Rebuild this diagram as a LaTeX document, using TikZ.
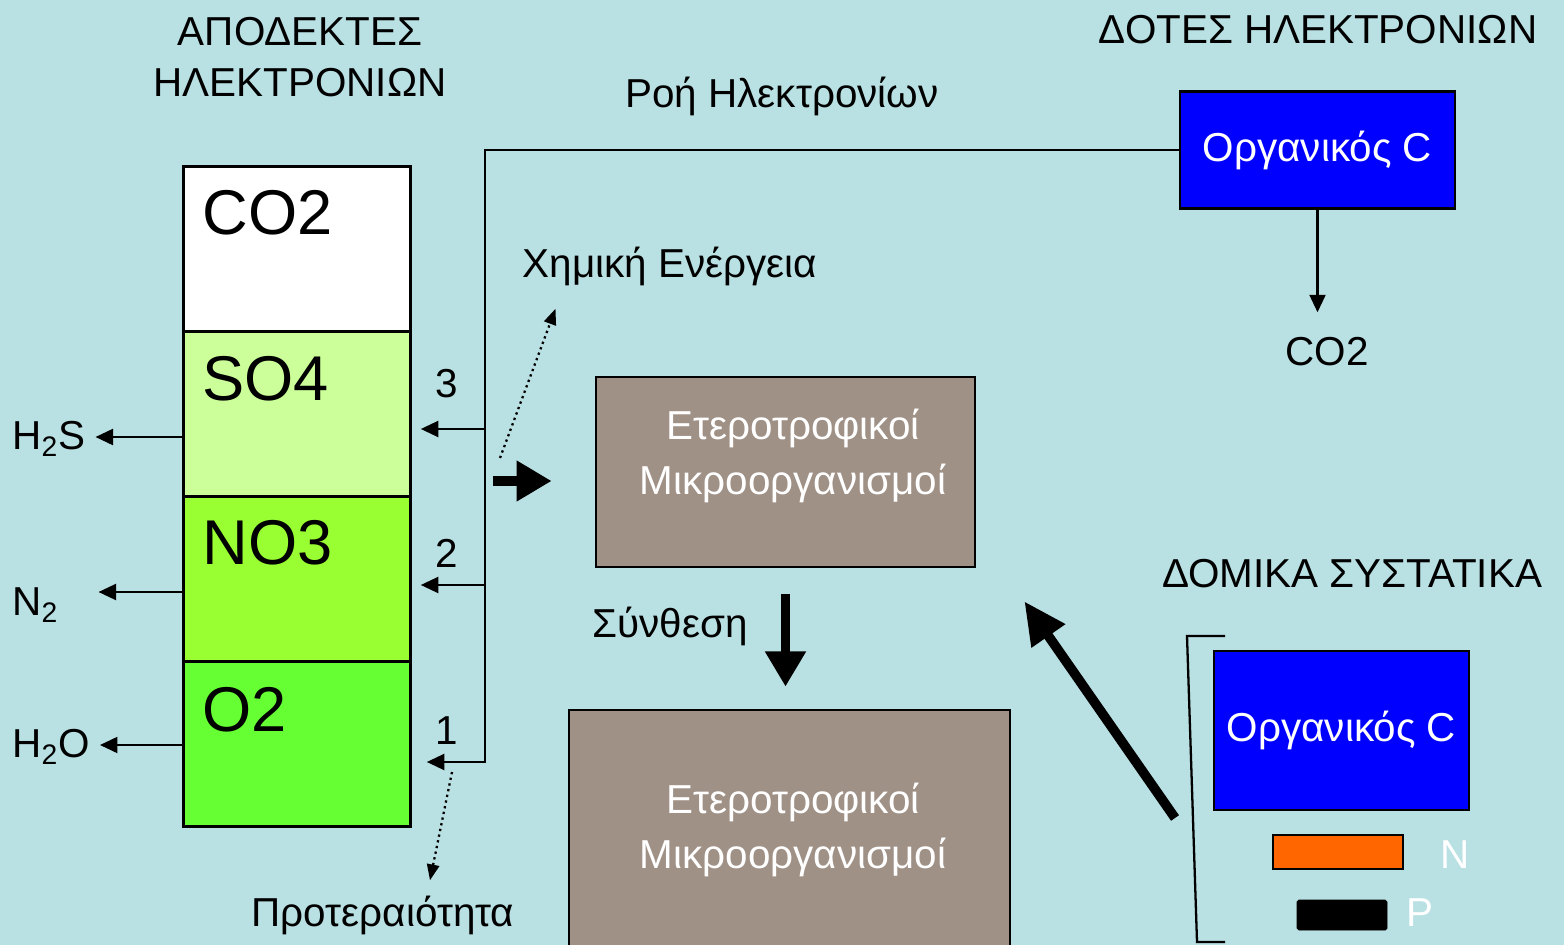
\documentclass[tikz,border=0pt]{standalone}
\usepackage{fontspec}
\setmainfont{Liberation Sans}
\usetikzlibrary{arrows.meta}
\definecolor{bgblue}{RGB}{185,224,227}
\definecolor{granite}{RGB}{160,145,135}
\definecolor{sofill}{RGB}{204,255,153}
\definecolor{nofill}{RGB}{153,255,51}
\definecolor{oxfill}{RGB}{102,255,51}
\definecolor{orgblue}{RGB}{0,0,255}
\definecolor{norange}{RGB}{255,102,0}

\begin{document}
\begin{tikzpicture}[x=0.02cm,y=-0.02cm,
  lbl/.style={font=\fontsize{23}{29}\selectfont,inner sep=0pt,align=center},
  big/.style={font=\fontsize{36}{40}\selectfont,inner sep=0pt,anchor=north west},
  acc/.style={draw,line width=1.6pt,anchor=north west,minimum width=4.54cm,minimum height=3.3cm,inner sep=0pt},
  bluebox/.style={draw,line width=1.6pt,fill=orgblue,text=white,font=\fontsize{23}{29}\selectfont,inner sep=0pt},
  microbe/.style={draw,line width=1.6pt,fill=granite,inner sep=0pt},
  arr/.style={line width=1.6pt,-{Triangle[length=10pt,width=9pt]}},
  dotarr/.style={line width=1.3pt,dotted,-{Triangle[length=9pt,width=7pt]}},
  fatarr/.style={line width=6pt,-{Triangle[length=20pt,width=22pt]}}
]
  \clip (0,0) rectangle (1564,945);
  \fill[bgblue] (0,0) rectangle (1564,945);

  % Electron acceptors
  \node[lbl] (acctitle) at (300,57) {ΑΠΟΔΕΚΤΕΣ\\ΗΛΕΚΤΡΟΝΙΩΝ};
  \node[acc,fill=white] (co2) at (182,165) {};
  \node[acc,fill=sofill] (so4) at (182,330) {};
  \node[acc,fill=nofill] (no3) at (182,495) {};
  \node[acc,fill=oxfill] (o2) at (182,660) {};
  \node[big] (co2t) at ([xshift=0.4cm,yshift=-0.5cm]co2.north west) {CO2};
  \node[big] (so4t) at ([xshift=0.4cm,yshift=-0.52cm]so4.north west) {SO4};
  \node[big] (no3t) at ([xshift=0.4cm,yshift=-0.5cm]no3.north west) {NO3};
  \node[big] (o2t) at ([xshift=0.4cm,yshift=-0.54cm]o2.north west) {O2};

  % Reduced products
  \node[lbl,anchor=west] (h2s) at (12,439) {H\textsubscript{2}S};
  \node[lbl,anchor=west] (n2) at (12,605) {N\textsubscript{2}};
  \node[lbl,anchor=west] (h2o) at (12,747) {H\textsubscript{2}O};
  \draw[arr,shorten >=0.2cm] ([yshift=0.04cm]h2s.east -| so4.west) -- ([yshift=0.04cm]h2s.east);
  \draw[arr,shorten >=0.8cm] ([yshift=0.26cm]n2.east -| no3.west) -- ([yshift=0.26cm]n2.east);
  \draw[arr,shorten >=0.2cm] ([yshift=0.04cm]h2o.east -| o2.west) -- ([yshift=0.04cm]h2o.east);

  % Electron donors
  \node[lbl] (dontitle) at (1318,30) {ΔΟΤΕΣ ΗΛΕΚΤΡΟΝΙΩΝ};
  \node[bluebox,minimum width=5.5cm,minimum height=2.34cm] (orgdon) at (1317.5,150) {Οργανικός C};
  \node[lbl] (co2out) at (1327,352) {CO2};
  \draw[arr,shorten >=0.5cm] (orgdon.south) -- (orgdon.south |- co2out.north);

  % Electron flow
  \node[lbl] (flow) at (782,96) {Ροή Ηλεκτρονίων};
  \coordinate (flowbot) at (485,762);
  \coordinate (tap3) at (485,429);
  \coordinate (tap2) at (485,585);
  \draw[arr,shorten >=0.3cm] (orgdon.west) -| (flowbot) -- (flowbot -| o2.east);
  \draw[arr,shorten >=0.18cm] (tap3) -- (tap3 -| so4.east);
  \draw[arr,shorten >=0.18cm] (tap2) -- (tap2 -| no3.east);
  \node[lbl] (num3) at (447,384) {3};
  \node[lbl] (num2) at (447,553) {2};
  \node[lbl] (num1) at (447,731) {1};

  % Energy and priority
  \node[lbl] (chem) at (670,266) {Χημική Ενέργεια};
  \node[lbl] (prio) at (383,915) {Προτεραιότητα};
  \coordinate (chemstart) at (500,458);
  \coordinate (priostart) at (452,772);
  \draw[dotarr] (chemstart) -- ([shift={(33,23)}]chem.south west);
  \draw[dotarr] (priostart) -- ([shift={(47,-15)}]prio.north);

  % Heterotrophs
  \node[microbe,minimum width=7.58cm,minimum height=3.8cm] (mic1) at (785.5,472) {};
  \node[microbe,minimum width=8.82cm,minimum height=5.6cm] (mic2) at (789.5,850) {};
  \node[lbl,text=white,font=\fontsize{23}{31}\selectfont] (mic1t) at (793,456) {Ετεροτροφικοί\\Μικροοργανισμοί};
  \node[lbl,text=white,font=\fontsize{23}{31}\selectfont] (mic2t) at (793,830) {Ετεροτροφικοί\\Μικροοργανισμοί};
  \coordinate (energyin) at (493,481);
  \draw[fatarr,shorten >=0.86cm] (energyin) -- (energyin -| mic1.west);
  \node[lbl] (synth) at (670,626) {Σύνθεση};
  \draw[fatarr,line width=5.5pt,shorten <=0.52cm,shorten >=0.44cm] (mic1.south) -- (mic1.south |- mic2.north);

  % Building blocks
  \node[lbl] (buildtitle) at (1352,574) {ΔΟΜΙΚΑ ΣΥΣΤΑΤΙΚΑ};
  \draw[line width=1.3pt] (1225,636) -- (1187,636) -- (1197,942) -- (1225,942);
  \node[bluebox,minimum width=5.1cm,minimum height=3.18cm] (orgbuild) at (1341.5,730.5) {Οργανικός C};
  \node[draw,line width=1.6pt,fill=norange,minimum width=2.6cm,minimum height=0.68cm,inner sep=0pt] (nbar) at (1338,852) {};
  \node[draw,fill=black,rounded corners=1pt,minimum width=1.8cm,minimum height=0.6cm,inner sep=0pt] (pbar) at (1342,915) {};
  \node[lbl,text=white] (nlbl) at (1455,855) {N};
  \node[lbl,text=white] (plbl) at (1420,913) {P};
  \coordinate (buildstart) at (1175,818);
  \draw[fatarr,line width=5.5pt,-{Triangle[length=24pt,width=22pt]}] (buildstart) -- ([shift={(48,33)}]mic1.south east);
\end{tikzpicture}
\end{document}
